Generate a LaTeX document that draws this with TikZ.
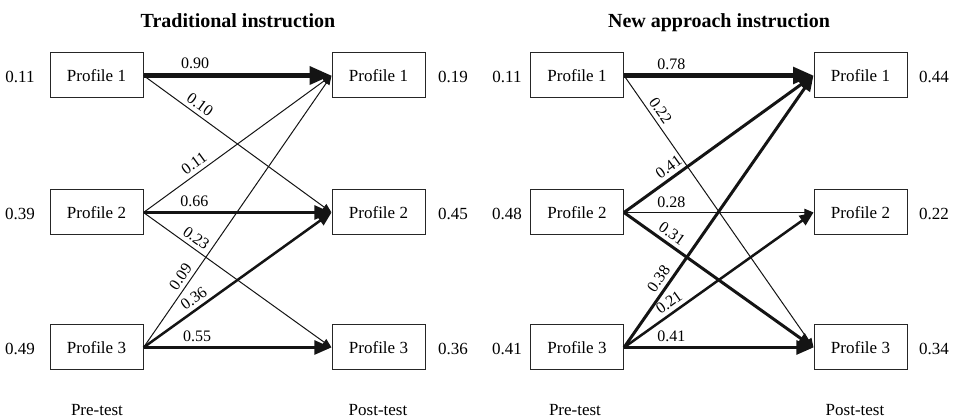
\documentclass[tikz,border=0pt]{standalone}
\usepackage{fontspec}
\setmainfont{Liberation Serif}
\usetikzlibrary{arrows.meta}
\begin{document}
\begin{tikzpicture}[x=1pt,y=1pt,
  box/.style={draw=black!85, line width=1pt, minimum width=93pt, minimum height=45pt, inner sep=0pt, font=\fontsize{17}{20}\selectfont},
  num/.style={font=\fontsize{17}{20}\selectfont, inner sep=0pt},
  ttl/.style={font=\bfseries\fontsize{20}{24}\selectfont, anchor=base, inner sep=0pt},
  testlabel/.style={font=\fontsize{17}{20}\selectfont, anchor=base, inner sep=0pt},
  lbl/.style={font=\fontsize{16}{19}\selectfont, sloped, above=3pt, inner sep=1pt},
  flow/.style={draw=black!92, line width=#1, -{Triangle[length=6pt 3.2, width=5pt 2.5]}},
]
\useasboundingbox (0,0) rectangle (954,420);

% ---------- Left panel ----------
\node[ttl] (t1) at (238,392) {Traditional instruction};
\node[box] (a1) at (96.5,344.5) {Profile 1};
\node[box] (a2) at (96.5,207.5) {Profile 2};
\node[box] (a3) at (96.5,72.5) {Profile 3};
\node[box] (b1) at (378.5,344.5) {Profile 1};
\node[box] (b2) at (378.5,207.5) {Profile 2};
\node[box] (b3) at (378.5,72.5) {Profile 3};
\node[num] (na1) at (20,343) {0.11};
\node[num] (na2) at (20,206) {0.39};
\node[num] (na3) at (20,71) {0.49};
\node[num] (nb1) at (453,343) {0.19};
\node[num] (nb2) at (453,206) {0.45};
\node[num] (nb3) at (453,71) {0.36};
\node[testlabel] (pre1) at (97,4) {Pre-test};
\node[testlabel] (post1) at (378,4) {Post-test};

\draw[flow=1pt] (a1.east) -- node[lbl,pos=.27] {0.10} (b2.west);
\draw[flow=1pt] (a2.east) -- node[lbl,pos=.30] {0.11} (b1.west);
\draw[flow=1pt] (a2.east) -- node[lbl,pos=.25] {0.23} (b3.west);
\draw[flow=1pt] (a3.east) -- node[lbl,pos=.24] {0.09} (b1.west);
\draw[flow=2.5pt] (a3.east) -- node[lbl,pos=.30] {0.36} (b2.west);
\draw[flow=3.5pt] (a3.east) -- node[lbl,pos=.285] {0.55} (b3.west);
\draw[flow=3.5pt] (a2.east) -- node[lbl,pos=.27] {0.66} (b2.west);
\draw[flow=5pt] (a1.east) -- node[lbl,pos=.275] {0.90} (b1.west);

% ---------- Right panel ----------
\node[ttl] (t2) at (719,392) {New approach instruction};
\node[box] (c1) at (577,344.5) {Profile 1};
\node[box] (c2) at (577,207.5) {Profile 2};
\node[box] (c3) at (577,72.5) {Profile 3};
\node[box] (d1) at (860.5,344.5) {Profile 1};
\node[box] (d2) at (860.5,207.5) {Profile 2};
\node[box] (d3) at (860.5,72.5) {Profile 3};
\node[num] (nc1) at (507,343) {0.11};
\node[num] (nc2) at (507,206) {0.48};
\node[num] (nc3) at (507,71) {0.41};
\node[num] (nd1) at (934,343) {0.44};
\node[num] (nd2) at (934,206) {0.22};
\node[num] (nd3) at (934,71) {0.34};
\node[testlabel] (pre2) at (575,4) {Pre-test};
\node[testlabel] (post2) at (855,4) {Post-test};

\draw[flow=1pt] (c1.east) -- node[lbl,pos=.15] {0.22} (d3.west);
\draw[flow=1pt] (c2.east) -- node[lbl,pos=.25] {0.28} (d2.west);
\draw[flow=3pt] (c2.east) -- node[lbl,pos=.27] {0.41} (d1.west);
\draw[flow=3pt] (c2.east) -- node[lbl,pos=.22] {0.31} (d3.west);
\draw[flow=3pt] (c3.east) -- node[lbl,pos=.23] {0.38} (d1.west);
\draw[flow=2.5pt] (c3.east) -- node[lbl,pos=.27] {0.21} (d2.west);
\draw[flow=3.5pt] (c3.east) -- node[lbl,pos=.25] {0.41} (d3.west);
\draw[flow=4.5pt] (c1.east) -- node[lbl,pos=.25] {0.78} (d1.west);
\end{tikzpicture}
\end{document}
